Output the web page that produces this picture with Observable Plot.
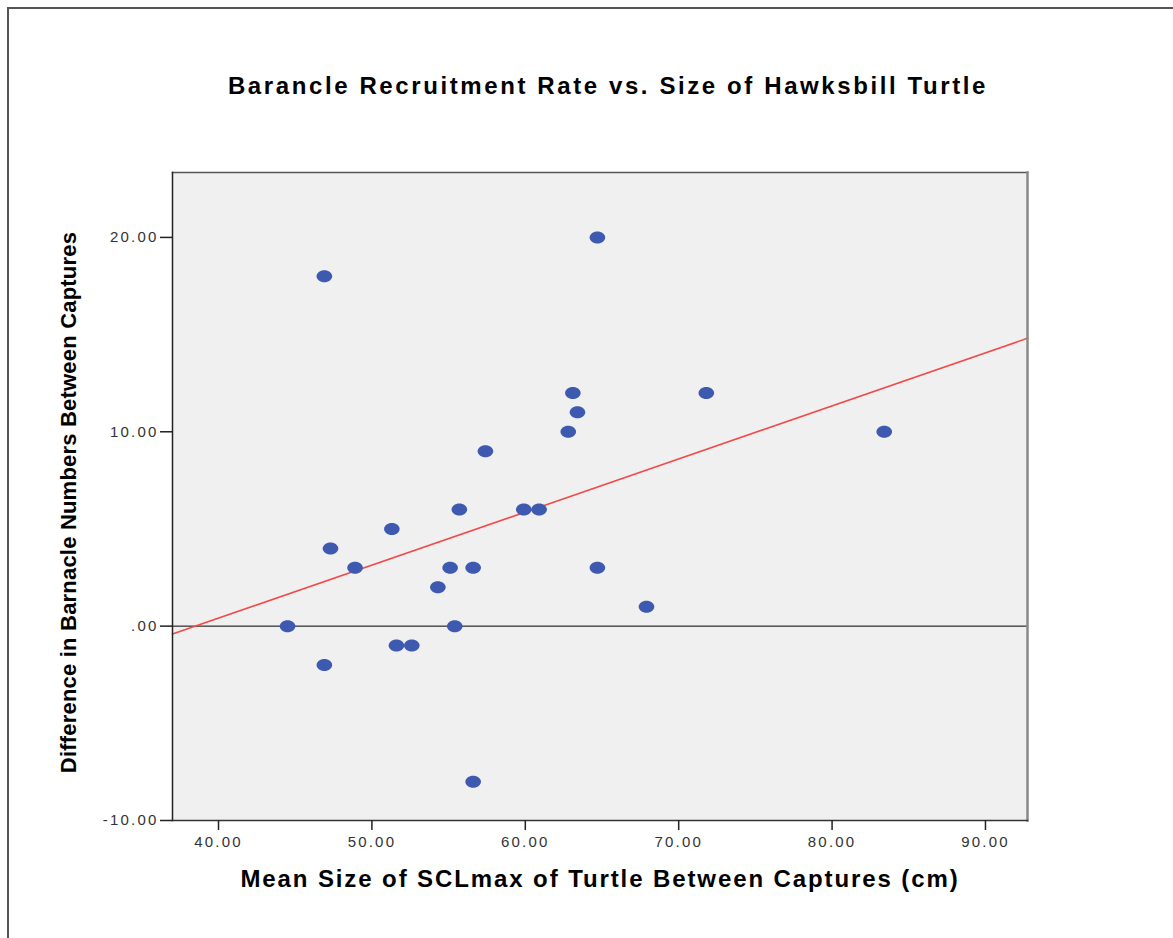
<!DOCTYPE html>
<html>
<head>
<meta charset="utf-8">
<script src="https://cdn.jsdelivr.net/npm/d3@7"></script>
<script src="https://cdn.jsdelivr.net/npm/@observablehq/plot@0.6"></script>
<style>
  html, body { margin: 0; padding: 0; background: #fff; overflow: hidden; }
  #wrap { position: relative; width: 1173px; height: 938px; overflow: hidden; }
  #border { position: absolute; left: 7px; top: 7px; width: 1250px; height: 1050px; border: 2px solid #555; box-sizing: border-box; pointer-events: none; }
  #chart { position: absolute; left: 0; top: 0; }
</style>
</head>
<body>
<div id="wrap"><div id="chart"></div><div id="border"></div></div>
<script>
const title = "Barancle Recruitment Rate vs. Size of Hawksbill Turtle";
const xLabel = "Mean Size of SCLmax of Turtle Between Captures (cm)";
const yLabel = "Difference in Barnacle Numbers Between Captures";

const sizeCm = [44.5, 46.9, 46.9, 47.3, 48.9, 51.3, 51.6, 52.6, 54.3, 55.1, 55.4, 55.7, 56.6, 56.6, 57.4, 59.9, 60.9, 62.8, 63.1, 63.4, 64.7, 64.7, 67.9, 71.8, 83.4];
const barnacleDiff = [0, 18, -2, 4, 3, 5, -1, -1, 2, 3, 0, 6, 3, -8, 9, 6, 6, 10, 12, 11, 20, 3, 1, 12, 10];

const xTicks = [40, 50, 60, 70, 80, 90];
const yTicks = [-10, 0, 10, 20];

const fitX = [37, 92.74];
const fitY = [-0.41, 14.81];

const points = sizeCm.map((x, i) => ({x, y: barnacleDiff[i]}));
const fit = fitX.map((x, i) => ({x, y: fitY[i]}));

const fmt = d => d === 0 ? ".00" : d.toFixed(2);

// ellipse symbol (wider than tall)
const ellipse = {
  draw(ctx, size) {
    const r = Math.sqrt(size / Math.PI);
    const rx = r * 1.3, ry = r;
    const k = 0.5523;
    ctx.moveTo(rx, 0);
    ctx.bezierCurveTo(rx, k * ry, k * rx, ry, 0, ry);
    ctx.bezierCurveTo(-k * rx, ry, -rx, k * ry, -rx, 0);
    ctx.bezierCurveTo(-rx, -k * ry, -k * rx, -ry, 0, -ry);
    ctx.bezierCurveTo(k * rx, -ry, rx, -k * ry, rx, 0);
    ctx.closePath();
  }
};

const plot = Plot.plot({
  width: 1173,
  height: 938,
  marginLeft: 172,
  marginRight: 146,
  marginTop: 172,
  marginBottom: 118,
  style: {fontFamily: "Liberation Sans, Arial, sans-serif", background: "transparent"},
  x: {domain: [37, 92.74]},
  y: {domain: [-10, 23.34]},
  marks: [
    Plot.frame({fill: "#f0f0f0", stroke: null}),
    Plot.ruleY([0], {stroke: "#000", strokeWidth: 1}),
    Plot.line(fit, {x: "x", y: "y", stroke: "#f24a4a", strokeWidth: 1.6}),
    Plot.dot(points, {x: "x", y: "y", r: 6, symbol: ellipse, fill: "#3e5ab0", stroke: null}),
    Plot.frame({anchor: "top", stroke: "#555", strokeWidth: 1.5}),
    Plot.frame({anchor: "right", stroke: "#8a8a8a", strokeWidth: 2.5}),
    Plot.frame({anchor: "left", stroke: "#222", strokeWidth: 1.5}),
    Plot.frame({anchor: "bottom", stroke: "#333", strokeWidth: 1.5}),
    Plot.axisX({ticks: xTicks, tickFormat: fmt, tickSize: 10, tickPadding: 6, fontSize: 15, color: "#333", stroke: "#222", strokeWidth: 1.5, label: null}),
    Plot.axisY({ticks: yTicks, tickFormat: fmt, tickSize: 12, tickPadding: 2, fontSize: 15, color: "#333", stroke: "#222", strokeWidth: 1.5, label: null}),
    Plot.text([title], {frameAnchor: "top", dx: 8, dy: -86, fontSize: 24, fontWeight: "bold", fill: "#000", lineAnchor: "middle"}),
    Plot.text([xLabel], {frameAnchor: "bottom", dx: 0, dy: 59, fontSize: 24, fontWeight: "bold", fill: "#000", lineAnchor: "middle"}),
    Plot.text([yLabel], {frameAnchor: "left", textAnchor: "middle", dx: -104, dy: 6, rotate: -90, fontSize: 22, fontWeight: "bold", fill: "#000", lineAnchor: "middle"})
  ]
});
const svg = d3.select(plot);
svg.selectAll('g[aria-label="x-axis tick label"] text, g[aria-label="y-axis tick label"] text').style("letter-spacing", "2.2px");
const textGroups = svg.selectAll('g[aria-label="text"]').nodes();
const spacings = ["2.6px", "1.9px", "0.2px"];
textGroups.forEach((g, i) => d3.select(g).selectAll("text").style("letter-spacing", spacings[i] || null));
document.getElementById("chart").appendChild(plot);
</script>
</body>
</html>
